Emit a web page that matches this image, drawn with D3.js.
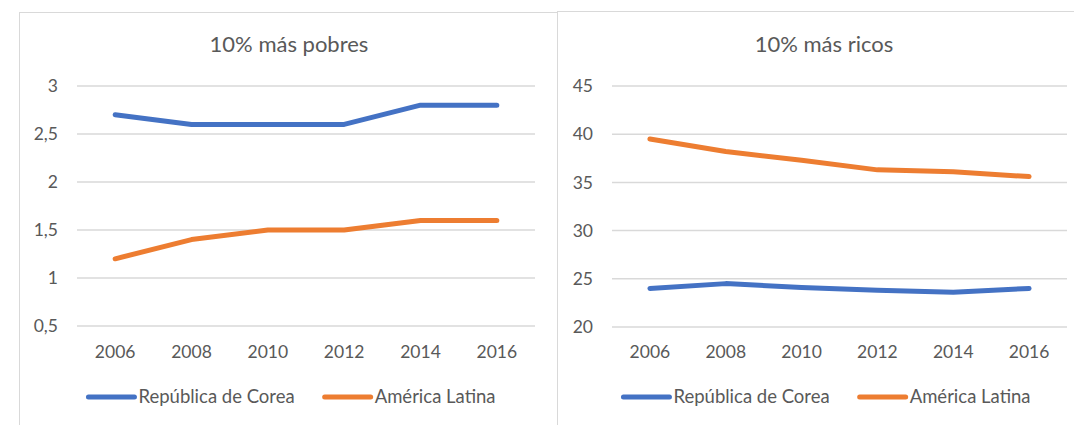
<!DOCTYPE html>
<html>
<head>
<meta charset="utf-8">
<script src="https://cdn.jsdelivr.net/npm/d3@7"></script>
<style>
  body { margin: 0; background: #fff; }
  text { font-family: Lato, "Open Sans", sans-serif; fill: #595959; }
</style>
</head>
<body>
<div id="chart"></div>
<script>
// Data
const years = ["2006", "2008", "2010", "2012", "2014", "2016"];
const seriesNames = ["República de Corea", "América Latina"];
const seriesColors = ["#4472C4", "#ED7D31"];

const pobresCorea = [2.7, 2.6, 2.6, 2.6, 2.8, 2.8];
const pobresAL = [1.2, 1.4, 1.5, 1.5, 1.6, 1.6];
const pobresTicks = [0.5, 1, 1.5, 2, 2.5, 3];

const ricosCorea = [24.0, 24.5, 24.1, 23.8, 23.6, 24.0];
const ricosAL = [39.5, 38.2, 37.3, 36.3, 36.1, 35.6];
const ricosTicks = [20, 25, 30, 35, 40, 45];

const esLocale = d3.formatLocale({decimal: ",", thousands: ".", grouping: [3], currency: ["", "€"]});
const fmt = esLocale.format("~g");

const svg = d3.select("#chart").append("svg")
    .attr("width", 1074)
    .attr("height", 425);

function drawPanel(opts) {
    const g = svg.append("g");

    // panel frame
    g.append("rect")
        .attr("x", opts.frame[0] + 0.5)
        .attr("y", opts.frame[1] + 0.5)
        .attr("width", opts.frame[2])
        .attr("height", 500)
        .attr("fill", "none")
        .attr("stroke", "#d9d9d9")
        .attr("stroke-width", 1);

    const x = d3.scaleBand()
        .domain(years)
        .range([opts.left, opts.right]);

    const y = d3.scaleLinear()
        .domain(d3.extent(opts.ticks))
        .range([opts.bottom, opts.top]);

    // gridlines
    g.selectAll(".grid")
        .data(opts.ticks)
        .enter().append("line")
        .attr("x1", opts.left)
        .attr("x2", opts.right)
        .attr("y1", d => y(d))
        .attr("y2", d => y(d))
        .attr("stroke", "#d9d9d9")
        .attr("stroke-width", 1.5);

    // y labels
    g.selectAll(".ylab")
        .data(opts.ticks)
        .enter().append("text")
        .attr("x", opts.left - 19)
        .attr("y", d => y(d))
        .attr("dy", "0.35em")
        .attr("text-anchor", "end")
        .style("font-size", "17.5px")
        .text(d => fmt(d));

    // x labels
    g.selectAll(".xlab")
        .data(years)
        .enter().append("text")
        .attr("x", d => x(d) + x.bandwidth() / 2)
        .attr("y", 352)
        .attr("dy", "0.35em")
        .attr("text-anchor", "middle")
        .style("font-size", "17.5px")
        .text(d => d);

    // lines
    const line = d3.line()
        .x((d, i) => x(years[i]) + x.bandwidth() / 2)
        .y(d => y(d));

    opts.series.forEach((s, i) => {
        g.append("path")
            .datum(s)
            .attr("d", line)
            .attr("fill", "none")
            .attr("stroke", seriesColors[i])
            .attr("stroke-width", 5)
            .attr("stroke-linecap", "round")
            .attr("stroke-linejoin", "round");
    });

    // title
    g.append("text")
        .attr("x", opts.center)
        .attr("y", 44)
        .attr("dy", "0.35em")
        .attr("text-anchor", "middle")
        .style("font-size", "22px")
        .text(opts.title);

    // legend
    const leg = g.append("g");
    let cx = 0;
    seriesNames.forEach((name, i) => {
        const item = leg.append("g").attr("transform", `translate(${cx},0)`);
        item.append("line")
            .attr("x1", 0).attr("x2", 46)
            .attr("y1", 0).attr("y2", 0)
            .attr("stroke", seriesColors[i])
            .attr("stroke-width", 5)
            .attr("stroke-linecap", "round");
        const t = item.append("text")
            .attr("x", 50)
            .attr("dy", "0.35em")
            .style("font-size", "18.5px")
            .text(name);
        cx += 50 + t.node().getComputedTextLength() + 30;
    });
    const legW = cx - 30;
    leg.attr("transform", `translate(${opts.legendCenter - legW / 2},397)`);
}

drawPanel({
    frame: [19, 12, 538],
    left: 77, right: 535, top: 86, bottom: 326,
    center: 289, legendCenter: 292,
    ticks: pobresTicks,
    series: [pobresCorea, pobresAL],
    title: "10% más pobres"
});

drawPanel({
    frame: [557, 11, 600],
    left: 612, right: 1067, top: 86, bottom: 327,
    center: 824, legendCenter: 827,
    ticks: ricosTicks,
    series: [ricosCorea, ricosAL],
    title: "10% más ricos"
});
</script>
</body>
</html>
